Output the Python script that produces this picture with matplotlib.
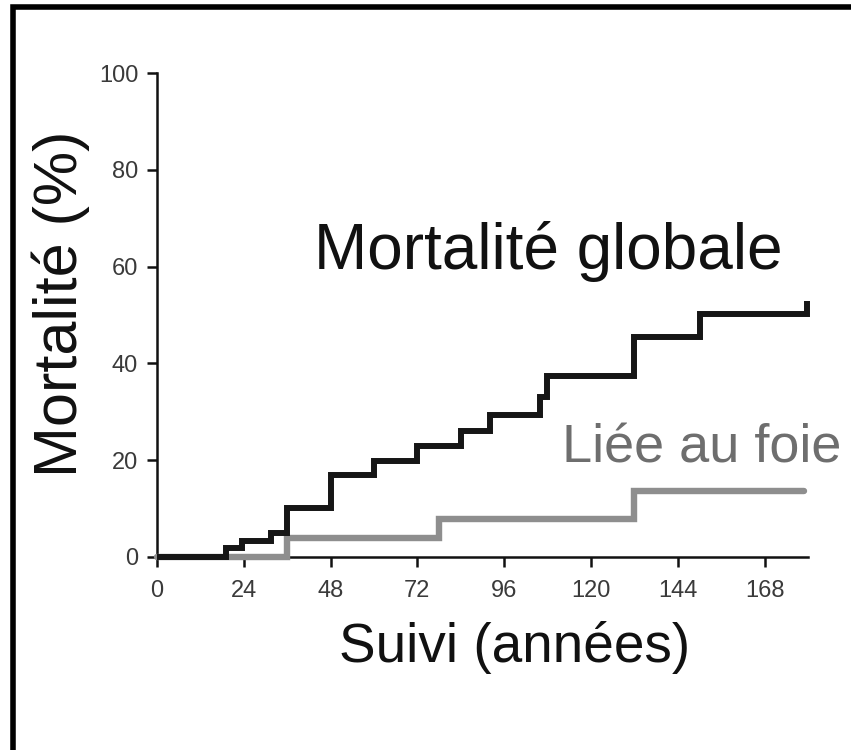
import matplotlib
matplotlib.use("Agg")
import matplotlib.pyplot as plt
from matplotlib.patches import Rectangle

plt.rcParams['font.family'] = ['Liberation Sans', 'DejaVu Sans']

# Data (months, %)
global_t = [0, 19, 23.5, 31.5, 36, 48, 60, 72, 84, 92, 105.8, 107.8, 132, 150, 179.6]
global_v = [0, 1.7, 3.2, 5.0, 10.1, 16.8, 19.7, 22.8, 25.9, 29.3, 33.1, 37.4, 45.5, 50.3, 52.8]
liver_t = [0, 36, 78, 132, 179]
liver_v = [0, 3.8, 7.7, 13.6, 13.6]
xticks = [0, 24, 48, 72, 96, 120, 144, 168]
yticks = [0, 20, 40, 60, 80, 100]

W, H = 851, 750
fig = plt.figure(figsize=(W / 100, H / 100), dpi=100)
fig.patch.set_facecolor('white')

# frame (top and left edges visible, cropped on right/bottom)
fig.patches.append(Rectangle((13 / W, -0.1), 1.2, (H - 7) / H + 0.1,
                             transform=fig.transFigure, fill=False,
                             edgecolor='black', linewidth=4.0))

ax = fig.add_axes([157 / W, (H - 556.7) / H, (808 - 157) / W, (556.7 - 73.3) / H])
ax.set_xlim(0, 180)
ax.set_ylim(0, 100)

ax.step(liver_t, liver_v, where='post', color='#8e8e8e', linewidth=4.6,
        solid_capstyle='round', solid_joinstyle='miter', zorder=3, clip_on=False)
ax.step(global_t, global_v, where='post', color='#161616', linewidth=4.3,
        solid_capstyle='butt', solid_joinstyle='miter', zorder=4, clip_on=False)

for s in ['top', 'right']:
    ax.spines[s].set_visible(False)
for s in ['left', 'bottom']:
    ax.spines[s].set_linewidth(1.8)
    ax.spines[s].set_color('#111111')
ax.set_xticks(xticks)
ax.set_yticks(yticks)
ax.tick_params(direction='out', length=7.5, width=1.8, color='#111111',
               labelsize=17, labelcolor='#3a3a3a', pad=6)
ax.tick_params(axis='x', pad=9)

ax.text(43.3, 59.5, 'Mortalité globale', fontsize=46, color='#111111',
        ha='left', va='baseline')
ax.text(112, 19.4, 'Liée au foie', fontsize=39, color='#6e6e6e',
        ha='left', va='baseline', clip_on=False)

fig.text(514.5 / W, (H - 662) / H, 'Suivi (années)', fontsize=39.5,
         color='#111111', ha='center', va='baseline')
fig.text(77 / W, (H - 304) / H, 'Mortalité (%)', fontsize=44, color='#111111',
         rotation=90, rotation_mode='anchor', ha='center', va='baseline')

fig.savefig('out.png', dpi=100, facecolor='white')
